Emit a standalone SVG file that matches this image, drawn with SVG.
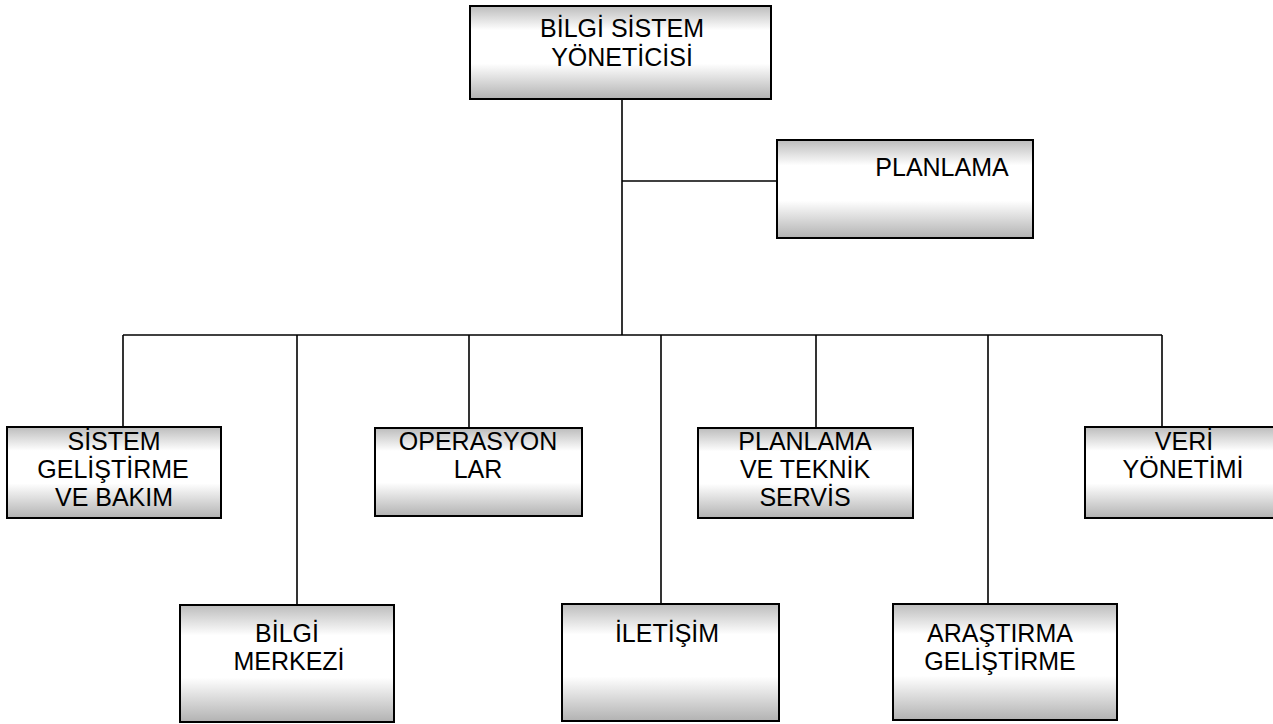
<svg xmlns="http://www.w3.org/2000/svg" width="1273" height="724" viewBox="0 0 1273 724">
  <defs>
    <linearGradient id="boxFill" x1="0" y1="0" x2="0" y2="1">
      <stop offset="0" stop-color="#bcbcbc"/>
      <stop offset="0.26" stop-color="#ffffff"/>
      <stop offset="0.62" stop-color="#ffffff"/>
      <stop offset="1" stop-color="#b2b2b2"/>
    </linearGradient>
    <style>
      .box { fill: url(#boxFill); stroke: #000; stroke-width: 2; }
      .lbl { font-family: "Liberation Sans", Arial, sans-serif; font-size: 25px; fill: #000; text-anchor: middle; }
      .wire { fill: none; stroke: #000; stroke-width: 1.6; }
    </style>
  </defs>
  <rect width="1273" height="724" fill="#fff"/>

  <!-- connectors -->
  <g id="connectors" class="wire">
    <line x1="622" y1="99" x2="622" y2="335"/>
    <line x1="622" y1="181" x2="777" y2="181"/>
    <line x1="123" y1="335" x2="1162" y2="335"/>
    <line x1="123" y1="335" x2="123" y2="427"/>
    <line x1="297" y1="335" x2="297" y2="605"/>
    <line x1="469" y1="335" x2="469" y2="428"/>
    <line x1="661" y1="335" x2="661" y2="604"/>
    <line x1="816" y1="335" x2="816" y2="428"/>
    <line x1="988" y1="335" x2="988" y2="604"/>
    <line x1="1162" y1="335" x2="1162" y2="427"/>
  </g>

  <g id="bilgi-sistem-yoneticisi">
    <rect class="box" x="470" y="6" width="301" height="93"/>
    <text class="lbl" x="622" y="37">BİLGİ SİSTEM</text>
    <text class="lbl" x="622" y="66">YÖNETİCİSİ</text>
  </g>

  <g id="planlama">
    <rect class="box" x="777" y="140" width="256" height="98"/>
    <text class="lbl" x="942" y="176">PLANLAMA</text>
  </g>

  <g id="sistem-gelistirme">
    <rect class="box" x="7" y="427" width="214" height="91"/>
    <text class="lbl" x="114" y="450">SİSTEM</text>
    <text class="lbl" x="113" y="478">GELİŞTİRME</text>
    <text class="lbl" x="114" y="506">VE BAKIM</text>
  </g>

  <g id="bilgi-merkezi">
    <rect class="box" x="180" y="605" width="214" height="117"/>
    <text class="lbl" x="287" y="642">BİLGİ</text>
    <text class="lbl" x="289" y="670">MERKEZİ</text>
  </g>

  <g id="operasyonlar">
    <rect class="box" x="375" y="428" width="207" height="88"/>
    <text class="lbl" x="478" y="450">OPERASYON</text>
    <text class="lbl" x="478" y="478">LAR</text>
  </g>

  <g id="iletisim">
    <rect class="box" x="562" y="604" width="217" height="117"/>
    <text class="lbl" x="667" y="642">İLETİŞİM</text>
  </g>

  <g id="planlama-teknik-servis">
    <rect class="box" x="698" y="428" width="215" height="90"/>
    <text class="lbl" x="805" y="450">PLANLAMA</text>
    <text class="lbl" x="805" y="478">VE TEKNİK</text>
    <text class="lbl" x="805" y="506">SERVİS</text>
  </g>

  <g id="arastirma-gelistirme">
    <rect class="box" x="893" y="604" width="224" height="116"/>
    <text class="lbl" x="1000" y="642">ARAŞTIRMA</text>
    <text class="lbl" x="1000" y="670">GELİŞTİRME</text>
  </g>

  <g id="veri-yonetimi">
    <rect class="box" x="1085" y="427" width="198" height="91"/>
    <text class="lbl" x="1184" y="450">VERİ</text>
    <text class="lbl" x="1183" y="478">YÖNETİMİ</text>
  </g>
</svg>
